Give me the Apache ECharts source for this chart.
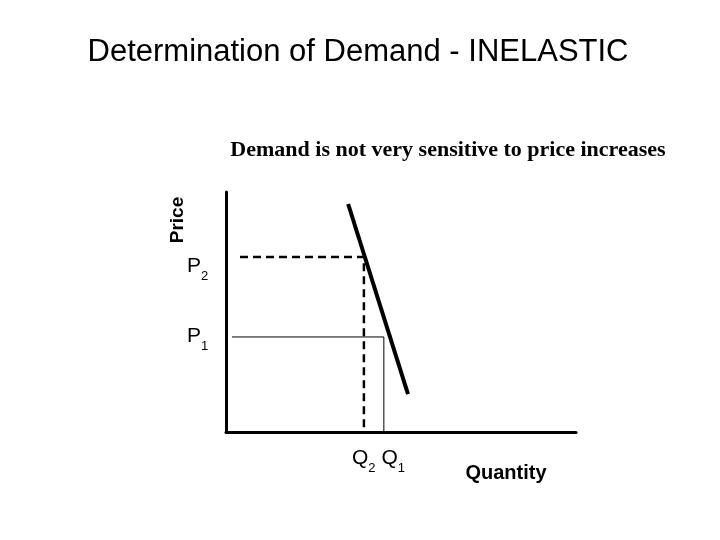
<!DOCTYPE html>
<html><head><meta charset="utf-8">
<script src="https://cdn.jsdelivr.net/npm/echarts@6/dist/echarts.min.js"></script>
<style>html,body{margin:0;padding:0;background:#fff}#c{width:720px;height:540px}</style>
</head><body><div id="c"></div>
<script>
const demandLine = [[34.9, 95], [52, 15.8]];
const p2Level = 72.9, q2Level = 39.4;
const p1Level = 39.6, q1Level = 45.1;
const chart = echarts.init(document.getElementById('c'));
const sub = {fontSize: 13, verticalAlign: 'bottom', padding: [0,0,-6,0]};
chart.setOption({
  animation: false,
  title: [
    {text: 'Determination of Demand - INELASTIC', left: 353, top: 32, textAlign: 'center',
     textStyle: {fontFamily: 'Liberation Sans', fontSize: 31, fontWeight: 'normal', color: '#000'}},
    {text: 'Demand is not very sensitive to price increases', left: 443, top: 134, textAlign: 'center',
     textStyle: {fontFamily: 'Liberation Serif', fontSize: 22, fontWeight: 'bold', color: '#000'}}
  ],
  grid: {left: 226, top: 192, width: 350, height: 240},
  xAxis: {type: 'value', min: 0, max: 100, axisLine: {lineStyle: {color: '#000', width: 3}},
    axisTick: {show: false}, axisLabel: {show: false}, splitLine: {show: false}},
  yAxis: {type: 'value', min: 0, max: 100, axisLine: {show: true, lineStyle: {color: '#000', width: 3}},
    axisTick: {show: false}, axisLabel: {show: false}, splitLine: {show: false}},
  series: [
    {type: 'line', data: demandLine, symbol: 'none', lineStyle: {color: '#000', width: 4}},
    {type: 'line', data: [[4, p2Level], [q2Level, p2Level], [q2Level, 0]], symbol: 'none',
     lineStyle: {color: '#000', width: 2.5, type: [8, 5]}},
    {type: 'line', data: [[1.7, p1Level], [q1Level, p1Level], [q1Level, 0]], symbol: 'none',
     lineStyle: {color: '#000', width: 1}}
  ],
  graphic: [
    {type: 'text', x: 178, y: 220, rotation: Math.PI/2, style: {text: 'Price', fontFamily: 'Liberation Sans', fontSize: 19, fontWeight: 'bold', fill: '#000', align: 'center', verticalAlign: 'middle'}},
    {type: 'text', x: 187, y: 266, style: {text: '{m|P}{s|2}', rich: {m: {fontSize: 21, fontFamily: 'Liberation Sans'}, s: Object.assign({fontFamily: 'Liberation Sans'}, sub)}, verticalAlign: 'middle', fill: '#000'}},
    {type: 'text', x: 187, y: 336, style: {text: '{m|P}{s|1}', rich: {m: {fontSize: 21, fontFamily: 'Liberation Sans'}, s: Object.assign({fontFamily: 'Liberation Sans'}, sub)}, verticalAlign: 'middle', fill: '#000'}},
    {type: 'text', x: 352, y: 458, style: {text: '{m|Q}{s|2}{m| Q}{s|1}', rich: {m: {fontSize: 21, fontFamily: 'Liberation Sans'}, s: Object.assign({fontFamily: 'Liberation Sans'}, sub)}, verticalAlign: 'middle', fill: '#000'}},
    {type: 'text', x: 506, y: 473, style: {text: 'Quantity', fontFamily: 'Liberation Sans', fontSize: 20, fontWeight: 'bold', fill: '#000', align: 'center', verticalAlign: 'middle'}}
  ]
});
</script></body></html>
